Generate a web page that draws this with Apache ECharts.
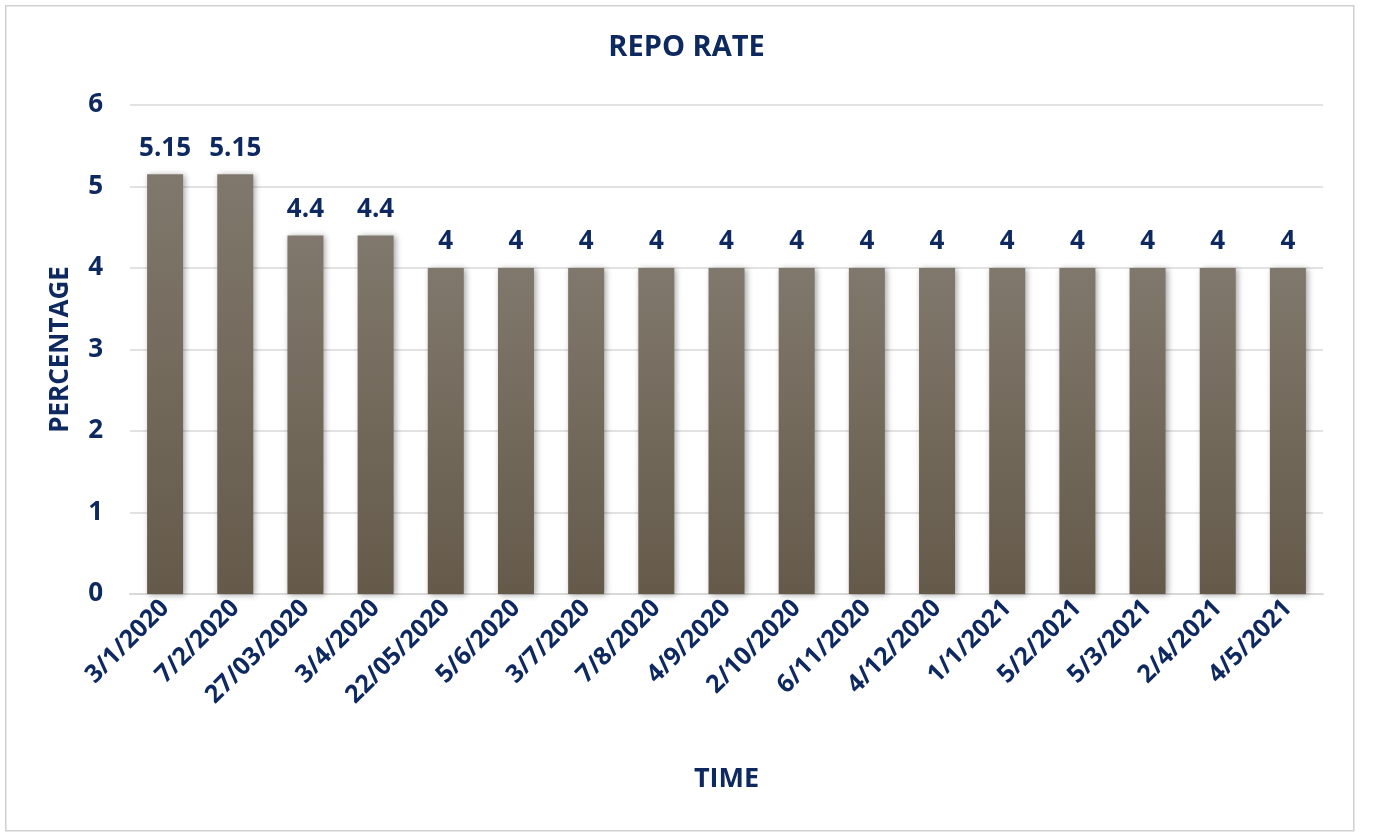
<!DOCTYPE html>
<html>
<head>
<meta charset="utf-8">
<script src="https://cdn.jsdelivr.net/npm/echarts@6/dist/echarts.min.js"></script>
<style>
html,body{margin:0;padding:0;background:#fff;}
#chart{width:1373px;height:833px;}
</style>
</head>
<body>
<div id="chart"></div>
<script>
const categories = ['3/1/2020','7/2/2020','27/03/2020','3/4/2020','22/05/2020','5/6/2020','3/7/2020','7/8/2020','4/9/2020','2/10/2020','6/11/2020','4/12/2020','1/1/2021','5/2/2021','5/3/2021','2/4/2021','4/5/2021'];
const repoRate = [5.15,5.15,4.4,4.4,4,4,4,4,4,4,4,4,4,4,4,4,4];
const yTicks = [0,1,2,3,4,5,6];

const navy = '#0e2860';
const font = '"Open Sans", "Liberation Sans", sans-serif';
const chart = echarts.init(document.getElementById('chart'));
chart.setOption({
  backgroundColor: '#fff',
  animation: false,
  graphic: [{
    type: 'rect', left: 5, top: 5, z: -10,
    shape: {width: 1348, height: 825},
    style: {fill: '#fff', stroke: '#d0d0d0', lineWidth: 1.5}
  }],
  title: {
    text: 'REPO RATE', left: 'center', top: 28,
    textStyle: {color: navy, fontSize: 29, fontWeight: 'bold', fontFamily: font}
  },
  grid: {left: 130, right: 50, top: 105, bottom: 239, containLabel: false},
  xAxis: {
    type: 'category',
    data: categories,
    name: 'TIME',
    nameLocation: 'middle',
    nameGap: 172,
    nameTextStyle: {color: navy, fontSize: 27, fontWeight: 'bold', fontFamily: font},
    axisLine: {lineStyle: {color: '#d9d9d9', width: 2}},
    axisTick: {show: false},
    axisLabel: {rotate: 45, color: navy, fontSize: 25, fontWeight: 'bold', fontFamily: font, margin: 10, interval: 0}
  },
  yAxis: {
    type: 'value',
    min: 0, max: 6, interval: 1,
    name: 'PERCENTAGE',
    nameLocation: 'middle',
    nameGap: 56,
    nameTextStyle: {color: navy, fontSize: 26, fontWeight: 'bold', fontFamily: font},
    axisLine: {show: false},
    axisTick: {show: false},
    splitLine: {lineStyle: {color: '#d9d9d9', width: 1.5}},
    axisLabel: {color: navy, fontSize: 26, fontWeight: 'bold', fontFamily: font, margin: 27,
      formatter: v => yTicks.includes(v) ? String(v) : ''}
  },
  series: [{
    type: 'bar',
    data: repoRate,
    barWidth: 36,
    itemStyle: {
      color: new echarts.graphic.LinearGradient(0, 0, 0, 1, [
        {offset: 0, color: '#80786c'},
        {offset: 1, color: '#655a4a'}
      ]),
      shadowColor: 'rgba(0,0,0,0.35)', shadowBlur: 6, shadowOffsetX: 2, shadowOffsetY: 1
    },
    label: {
      show: true, position: 'top', distance: 13,
      color: navy, fontSize: 26, fontWeight: 'bold', fontFamily: font
    }
  }]
});
</script>
</body>
</html>
